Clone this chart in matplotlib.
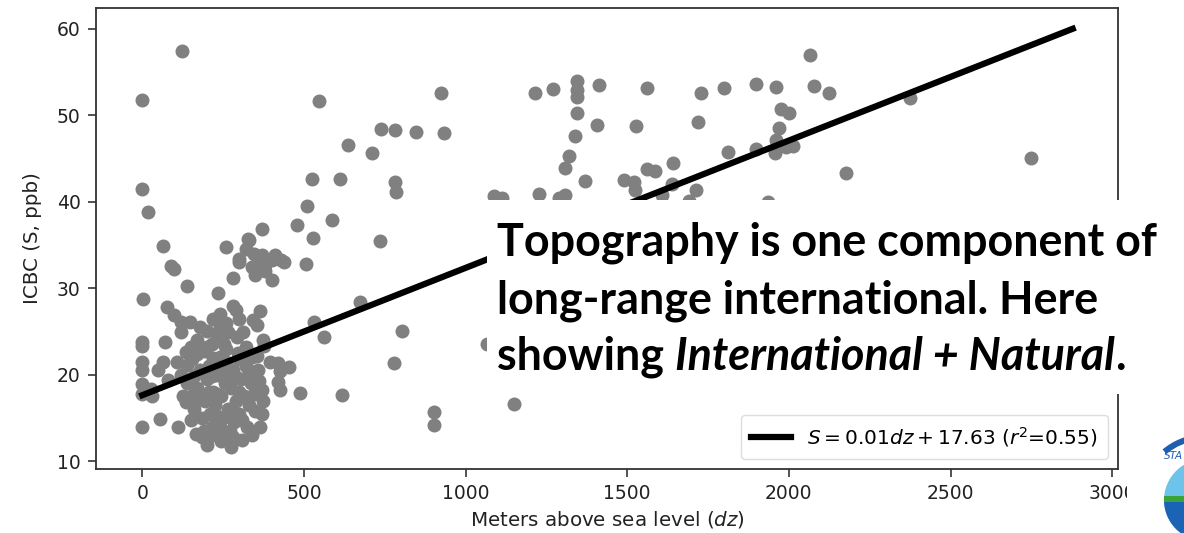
import matplotlib
matplotlib.use("Agg")
import matplotlib.pyplot as plt
from matplotlib.patches import Rectangle, Circle, Wedge
from matplotlib.transforms import IdentityTransform

# elevation (m) and ICBC (ppb)
elev = [
    0, 0, 18, 2, 0, 0, 0, 0, 0, 0, 0,
    123, 64, 89, 97, 137, 77, 97, 121, 147, 121,
    258, 235, 280, 330, 370, 328, 300, 320, 345, 360, 380, 400, 430, 380, 350,
    400, 340, 370, 300, 410, 440,
    478, 511, 524, 529, 506, 586, 613, 548, 636, 711, 739, 783, 848, 934, 925,
    781, 786, 734, 672, 532, 563, 804, 778, 617, 489, 903, 903, 1149, 1065,
    282, 290, 242, 364, 344, 354, 69, 64, 49, 28, 30, 54, 111, 80, 106, 137,
    168, 199, 230, 266, 292, 313, 254, 199, 168, 375, 378, 354, 395, 421, 453,
    425, 421, 427, 359, 362, 370, 375, 370, 364, 339, 276, 199, 209,
    120, 140, 150, 160, 170, 180, 185, 190, 195, 200, 205, 210, 215, 220, 225,
    230, 235, 240, 245, 250, 255, 260, 265, 270, 275, 280, 285, 290, 295, 300,
    305, 310, 315, 320, 325, 330, 335, 340, 345, 350, 135, 155, 175, 185, 215,
    245, 260, 280, 300, 320, 150, 125, 165, 195, 230, 265, 300, 330, 230, 205,
    250, 275, 215, 180, 240, 290, 310, 345, 160, 220,
    220, 240, 260, 300, 180, 150, 135,
    1112, 1087, 1216, 1272, 1345, 1345, 1345, 1345, 1412, 1407, 1338, 1321,
    1309, 1309, 1288, 1227, 1562, 1526, 1728, 1800, 1897, 1959, 1718, 1976,
    2000, 1971, 1961, 1992, 1956, 1897, 1812, 1642, 1562, 1586, 1490, 1521,
    1640, 1712, 1609, 1934, 1525, 1370, 1692, 2066, 2077, 2124, 2375, 2178,
    2748, 2013,
]
icbc = [
    51.8, 41.5, 38.8, 28.7, 23.8, 23.3, 21.5, 20.5, 18.9, 17.8, 14.0,
    57.4, 34.9, 32.6, 32.2, 30.3, 27.8, 26.9, 26.1, 26.1, 24.9,
    34.8, 29.4, 31.2, 35.6, 36.9, 35.7, 33.4, 34.5, 34.0, 33.0, 32.7, 33.3, 33.3, 32.0, 31.5,
    31.0, 32.5, 33.8, 33.0, 33.8, 33.0,
    37.3, 39.5, 42.6, 35.8, 32.8, 37.9, 42.6, 51.6, 46.6, 45.6, 48.4, 48.3, 48.1, 48.0, 52.6,
    42.3, 41.1, 35.5, 28.4, 26.1, 24.4, 25.1, 21.4, 17.7, 17.9, 15.7, 14.2, 16.6, 23.5,
    27.9, 27.5, 27.0, 27.4, 26.3, 25.7, 23.8, 21.5, 20.5, 18.4, 17.5, 14.9, 14.0, 19.4, 21.5, 21.1,
    24.0, 25.1, 24.7, 24.9, 24.4, 24.9, 23.6, 23.2, 22.4, 24.0, 23.3, 22.2, 21.5, 21.3, 20.9,
    20.4, 19.2, 18.2, 20.5, 19.3, 18.2, 17.0, 15.5, 14.0, 13.0, 11.7, 11.9, 12.9,
    20.0, 19.0, 17.5, 16.0, 18.5, 20.5, 15.0, 13.5, 17.0, 19.5, 21.0, 15.5, 14.0, 18.0, 16.5,
    20.0, 13.0, 22.0, 17.5, 15.0, 19.0, 21.5, 16.0, 13.5, 18.5, 20.5, 14.5, 17.0, 22.5, 15.5,
    19.5, 12.5, 17.5, 21.0, 14.0, 16.5, 19.0, 22.0, 17.8, 15.8, 16.8, 21.8, 23.0, 12.8, 23.5,
    12.3, 23.0, 12.8, 21.8, 23.2, 14.8, 17.5, 13.2, 22.7, 15.2, 19.8, 18.0, 20.2, 17.8, 18.0,
    20.8, 15.8, 19.8, 17.2, 14.0, 19.7, 14.8, 20.3, 19.8, 21.9,
    26.5, 25.5, 26.0, 26.5, 25.5, 23.2, 22.6,
    40.4, 40.7, 52.6, 53.0, 54.0, 52.9, 52.1, 50.3, 53.5, 48.9, 47.6, 45.3,
    43.9, 40.8, 40.4, 40.9, 53.2, 48.8, 52.6, 53.1, 53.6, 53.3, 49.2, 50.7,
    50.3, 48.5, 47.1, 46.3, 45.6, 46.1, 45.7, 44.5, 43.8, 43.6, 42.5, 42.3,
    42.1, 41.3, 40.8, 40.0, 41.3, 42.4, 40.1, 57.0, 53.4, 52.6, 52.0, 43.3,
    45.1, 46.5,
]

fit_x = [0, 2878]
fit_y = [17.63, 60.0]
fit_label = r"$S = 0.01dz + 17.63$ ($r^2$=0.55)"

W, H = 1184, 533
fig = plt.figure(figsize=(W / 100, H / 100), dpi=100)
fig.patch.set_facecolor("white")
ax = fig.add_axes([96 / W, 1 - 469 / H, (1118 - 96) / W, (469 - 8) / H])

ax.scatter(elev, icbc, s=82, color="grey", zorder=2)
ax.plot(fit_x, fit_y, color="black", lw=4.5, label=fit_label, zorder=3)

ax.set_xlim(-143, 3018)
ax.set_ylim(9.1, 62.4)
ax.set_xticks([0, 500, 1000, 1500, 2000, 2500, 3000])
ax.set_yticks([10, 20, 30, 40, 50, 60])
ax.tick_params(labelsize=13.5, length=6, width=1.2, pad=5, color="#333333", labelcolor="#222222")
for s in ax.spines.values():
    s.set_linewidth(1.3)
    s.set_color("#333333")
ax.set_xlabel("Meters above sea level ($dz$)", fontsize=14.3, color="#222222", labelpad=4)
ax.set_ylabel("ICBC (S, ppb)", fontsize=14.3, color="#222222", labelpad=11)
leg = ax.legend(loc="lower right", fontsize=14.5, framealpha=1, edgecolor="#dddddd",
                borderpad=0.5)

# slide overlays: white text box and crop edge on the right
px = IdentityTransform()
fig.add_artist(Rectangle((487, H - 394), 800, 194, transform=px,
                         facecolor="white", edgecolor="none", zorder=5))
fig.add_artist(Rectangle((1127, -10), 100, H - 190, transform=px,
                         facecolor="white", edgecolor="none", zorder=4))

# partial logo at the bottom-right corner
cx, cy = 1205, H - 500
fig.add_artist(Wedge((cx, cy), 66, 60, 130, width=6, transform=px,
                     facecolor="#1f5fb0", edgecolor="none", zorder=6))
fig.add_artist(Circle((cx, cy), 41, transform=px, facecolor="#6ec3ea",
                      edgecolor="none", zorder=6))
fig.add_artist(Wedge((cx, cy), 41, 180, 360, transform=px,
                     facecolor="#1b63b5", edgecolor="none", zorder=7))
fig.add_artist(Rectangle((cx - 41, cy - 2), 82, 6, transform=px,
                         facecolor="#3aa33a", edgecolor="none", zorder=8))
fig.add_artist(Wedge((cx + 30, cy - 75), 62, 95, 140, width=4, transform=px,
                     facecolor="#3aa33a", edgecolor="none", zorder=9))
fig.text(1164 / W, 1 - 459 / H, "STA", fontsize=7.5, style="italic",
         color="#1f5fb0", zorder=9)

tfont = dict(family="Lato", weight="bold", fontsize=32.3, color="black", zorder=10)
x0 = 497 / W
fig.text(x0, 1 - 255 / H, "Topography is one component of", va="baseline", **tfont)
fig.text(x0, 1 - 313 / H, "long-range international. Here", va="baseline", **tfont)
yb = 1 - 370 / H
t1 = fig.text(x0, yb, "showing ", va="baseline", **tfont)
a2 = fig.add_artist(plt.Annotation("International + Natural", xy=(1, yb),
                    xycoords=(t1, "figure fraction"), va="baseline",
                    style="italic", **tfont))
fig.add_artist(plt.Annotation(".", xy=(1, yb), xycoords=(a2, "figure fraction"),
                              va="baseline", **tfont))

fig.savefig("out.png", dpi=100)
